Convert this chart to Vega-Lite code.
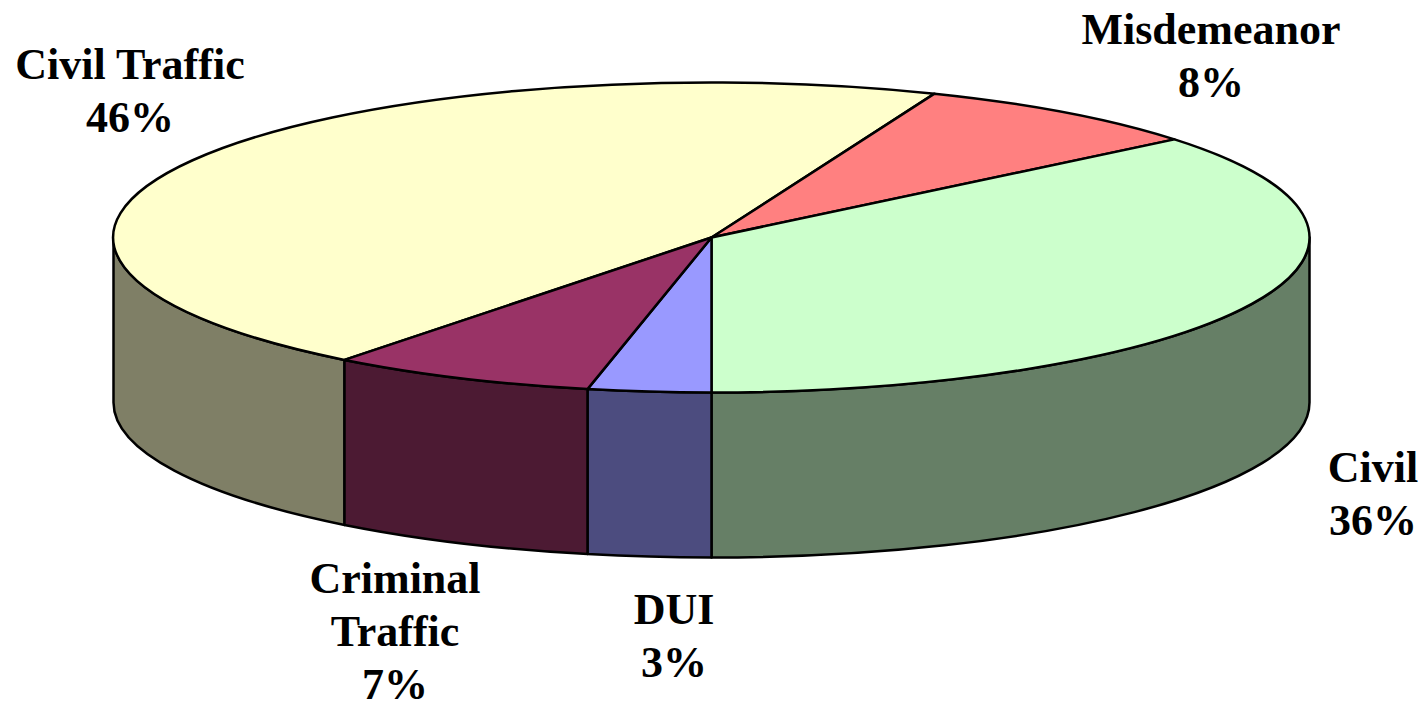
{"$schema":"https://vega.github.io/schema/vega-lite/v6.json","width":1425,"height":701,"autosize":{"type":"none"},"padding":0,"background":"white","config":{"view":{"stroke":null}},"datasets":{"slices":[{"slice":"Civil Traffic","share":46,"label":"Civil Traffic\n46%"},{"slice":"Misdemeanor","share":8,"label":"Misdemeanor\n8%"},{"slice":"Civil","share":36,"label":"Civil\n36%"},{"slice":"DUI","share":3,"label":"DUI\n3%"},{"slice":"Criminal Traffic","share":7,"label":"Criminal\nTraffic\n7%"}]},"data":{"name":"slices"},"resolve":{"scale":{"shape":"independent","color":"independent"}},"layer":[{"transform":[{"filter":"datum.slice !== 'Misdemeanor'"}],"mark":{"type":"point","filled":true,"size":4,"opacity":1,"stroke":"black","strokeWidth":2.5,"strokeJoin":"round"},"encoding":{"shape":{"field":"slice","type":"nominal","legend":null,"scale":{"domain":["Civil Traffic","Civil","DUI","Criminal Traffic"],"range":["M-368,9.4 L-368,174.4 A598,155 0 0 1 -599,52 L-599,-113 A598,155 0 0 0 -368,9.4 Z","M597,-113 L597,52 A598,155 0 0 1 -1,207 L-1,42 A598,155 0 0 0 597,-113 Z","M-1,42 L-1,207 A598,155 0 0 1 -125,203.6 L-125,38.6 A598,155 0 0 0 -1,42 Z","M-125,38.6 L-125,203.6 A598,155 0 0 1 -368,174.4 L-368,9.4 A598,155 0 0 0 -125,38.6 Z"]}},"color":{"field":"slice","type":"nominal","legend":null,"scale":{"domain":["Civil Traffic","Civil","DUI","Criminal Traffic"],"range":["#7F7F66","#667F66","#4C4C7F","#4C1A33"]}}}},{"mark":{"type":"point","filled":true,"size":4,"opacity":1,"stroke":"black","strokeWidth":2.5,"strokeJoin":"round"},"encoding":{"shape":{"field":"slice","type":"nominal","legend":null,"scale":{"domain":["Civil Traffic","Misdemeanor","Civil","DUI","Criminal Traffic"],"range":["M-1,-113 L-368,9.4 A598,155 0 0 1 222,-256.83 Z","M-1,-113 L222,-256.83 A598,155 0 0 1 462,-211.1 Z","M-1,-113 L462,-211.1 A598,155 0 0 1 -1,42 Z","M-1,-113 L-1,42 A598,155 0 0 1 -125,38.6 Z","M-1,-113 L-125,38.6 A598,155 0 0 1 -368,9.4 Z"]}},"color":{"field":"slice","type":"nominal","legend":null,"scale":{"domain":["Civil Traffic","Misdemeanor","Civil","DUI","Criminal Traffic"],"range":["#FFFFCC","#FF8080","#CCFFCC","#9999FF","#993366"]}}}},{"transform":[{"filter":"datum.slice === 'Civil Traffic'"}],"mark":{"type":"text","font":"Liberation Serif","fontWeight":"bold","fontSize":44,"lineBreak":"\n","lineHeight":53,"color":"black","dx":-582.5,"dy":-285},"encoding":{"text":{"field":"label"}}},{"transform":[{"filter":"datum.slice === 'Misdemeanor'"}],"mark":{"type":"text","font":"Liberation Serif","fontWeight":"bold","fontSize":44,"lineBreak":"\n","lineHeight":53,"color":"black","dx":498.5,"dy":-320},"encoding":{"text":{"field":"label"}}},{"transform":[{"filter":"datum.slice === 'Civil'"}],"mark":{"type":"text","font":"Liberation Serif","fontWeight":"bold","fontSize":44,"lineBreak":"\n","lineHeight":53,"color":"black","dx":660.5,"dy":118.5},"encoding":{"text":{"field":"label"}}},{"transform":[{"filter":"datum.slice === 'DUI'"}],"mark":{"type":"text","font":"Liberation Serif","fontWeight":"bold","fontSize":44,"lineBreak":"\n","lineHeight":53,"color":"black","dx":-38.5,"dy":260.5},"encoding":{"text":{"field":"label"}}},{"transform":[{"filter":"datum.slice === 'Criminal Traffic'"}],"mark":{"type":"text","font":"Liberation Serif","fontWeight":"bold","fontSize":44,"lineBreak":"\n","lineHeight":53,"color":"black","dx":-317.5,"dy":229.5},"encoding":{"text":{"field":"label"}}}]}
